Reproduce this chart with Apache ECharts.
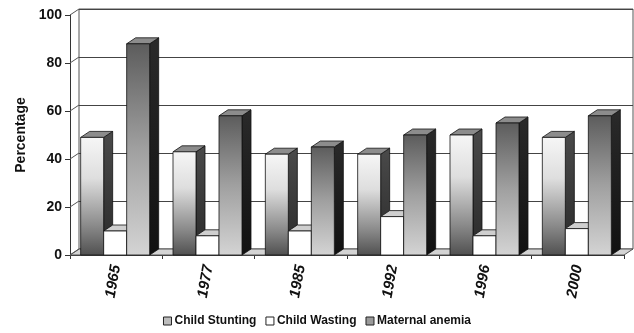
<!DOCTYPE html>
<html>
<head>
<meta charset="utf-8">
<script src="https://cdn.jsdelivr.net/npm/echarts@6/dist/echarts.min.js"></script>
<style>
  html, body { margin: 0; padding: 0; background: #fff; }
  #chart { width: 634px; height: 333px; }
</style>
</head>
<body>
<div id="chart"></div>
<script>
// Survey years and nutrition indicators (%)
const years = ['1965', '1977', '1985', '1992', '1996', '2000'];
const childStunting = [49, 43, 42, 42, 50, 49];
const childWasting = [10, 8, 10, 16, 8, 11];
const maternalAnemia = [88, 58, 45, 50, 55, 58];
const yTicks = [0, 20, 40, 60, 80, 100];

const FONT = '"Liberation Sans", Arial, sans-serif';
const DX = 9, DY = -6;       // depth offset of the 3D box
const BAR_W = 23;            // width of one column front face

const faceStyles = [
  {
    front: new echarts.graphic.LinearGradient(0, 0, 0, 1, [
      { offset: 0, color: '#f6f6f6' }, { offset: 0.35, color: '#dedede' },
      { offset: 0.75, color: '#8a8a8a' }, { offset: 1, color: '#505050' }]),
    side: new echarts.graphic.LinearGradient(0, 0, 0, 1, [
      { offset: 0, color: '#4a4a4a' }, { offset: 1, color: '#2a2a2a' }]),
    top: '#8c8c8c', legend: '#bdbdbd'
  },
  { front: '#ffffff', side: '#9a9a9a', top: '#cfcfcf', legend: '#ffffff' },
  {
    front: new echarts.graphic.LinearGradient(0, 0, 0, 1, [
      { offset: 0, color: '#5c5c5c' }, { offset: 0.5, color: '#a0a0a0' },
      { offset: 1, color: '#d4d4d4' }]),
    side: new echarts.graphic.LinearGradient(0, 0, 0, 1, [
      { offset: 0, color: '#2a2a2a' }, { offset: 1, color: '#111111' }]),
    top: '#8c8c8c', legend: '#9a9a9a'
  }
];

function columnRenderer(seriesIdx) {
  const st = faceStyles[seriesIdx];
  return function (params, api) {
    const cat = api.value(0);
    const val = api.value(1);
    const top = api.coord([cat, val]);
    const base = api.coord([cat, 0]);
    const x0 = top[0] - BAR_W * 1.5 - 1 + seriesIdx * BAR_W;
    const y = top[1], y0 = base[1];
    const line = { stroke: '#111', lineWidth: 0.8 };
    return {
      type: 'group',
      children: [
        { type: 'polygon', shape: { points: [[x0 + BAR_W, y], [x0 + BAR_W + DX, y + DY], [x0 + BAR_W + DX, y0 + DY], [x0 + BAR_W, y0]] },
          style: Object.assign({ fill: st.side }, line) },
        { type: 'polygon', shape: { points: [[x0, y], [x0 + BAR_W, y], [x0 + BAR_W + DX, y + DY], [x0 + DX, y + DY]] },
          style: Object.assign({ fill: st.top }, line) },
        { type: 'rect', shape: { x: x0, y: y, width: BAR_W, height: y0 - y },
          style: Object.assign({ fill: st.front }, line) }
      ]
    };
  };
}

// Floor slab and left-wall tick connectors of the 3D box
function boxRenderer(params, api) {
  const band = api.size([1, 0])[0];
  const v = api.value(1);
  const p = api.coord([0, v]);
  const xl = p[0] - band / 2;
  const children = [
    { type: 'line', shape: { x1: xl, y1: p[1], x2: xl + DX, y2: p[1] + DY },
      style: { stroke: '#555', lineWidth: 1 } }
  ];
  if (v === 0) {
    const pr = api.coord([years.length - 1, 0]);
    const xr = pr[0] + band / 2;
    children.unshift({ type: 'polygon',
      shape: { points: [[xl, p[1]], [xr, p[1]], [xr + DX, p[1] + DY], [xl + DX, p[1] + DY]] },
      style: { fill: '#d4d4d4', stroke: '#555', lineWidth: 1 } });
  }
  return { type: 'group', children: children };
}

const seriesNames = ['Child Stunting', 'Child Wasting', 'Maternal anemia'];
const seriesData = [childStunting, childWasting, maternalAnemia];

const chart = echarts.init(document.getElementById('chart'), null, { renderer: 'canvas' });
chart.setOption({
  animation: false,
  backgroundColor: '#fff',
  grid: [
    { left: 70, right: 10, top: 15, bottom: 78 },
    { left: 79, right: 1, top: 9, bottom: 84, show: true, borderColor: '#555', borderWidth: 1, backgroundColor: 'transparent' }
  ],
  legend: {
    bottom: 1, left: 'center',
    itemWidth: 8, itemHeight: 8, itemGap: 9,
    icon: 'rect',
    textStyle: { fontFamily: FONT, fontWeight: 'bold', fontSize: 12, color: '#111', padding: [0, 0, 0, -2] },
    data: seriesNames.map((n, i) => ({ name: n, itemStyle: { color: faceStyles[i].legend, borderColor: '#222', borderWidth: 1 } }))
  },
  xAxis: [
    {
      type: 'category', gridIndex: 0, data: years,
      axisLine: { show: true, lineStyle: { color: '#333', width: 1 } },
      axisTick: { show: true, length: 4, lineStyle: { color: '#333' } },
      axisLabel: { rotate: 80, margin: 10, fontFamily: FONT, fontWeight: 'bold', fontStyle: 'italic', fontSize: 15, color: '#111', padding: [0, 0, 4, 0] }
    },
    { type: 'category', gridIndex: 1, data: years, show: false }
  ],
  yAxis: [
    {
      type: 'value', gridIndex: 0, min: 0, max: 100, interval: 20,
      name: 'Percentage', nameLocation: 'middle', nameGap: 40,
      nameTextStyle: { fontFamily: FONT, fontWeight: 'bold', fontSize: 14, color: '#111' },
      axisLine: { show: true, lineStyle: { color: '#333', width: 1 } },
      axisTick: { show: true, length: 5, lineStyle: { color: '#333' } },
      axisLabel: { margin: 8, fontFamily: FONT, fontWeight: 'bold', fontSize: 14, color: '#111' },
      splitLine: { show: false }
    },
    {
      type: 'value', gridIndex: 1, min: 0, max: 100, interval: 20,
      axisLine: { show: false }, axisTick: { show: false }, axisLabel: { show: false },
      splitLine: { show: true, lineStyle: { color: '#444', width: 1 } }
    }
  ],
  series: [
    {
      type: 'custom', name: 'box', xAxisIndex: 0, yAxisIndex: 0, z: 1,
      renderItem: boxRenderer, silent: true,
      data: yTicks.map(t => [0, t])
    }
  ].concat(seriesNames.map((name, i) => ({
    type: 'custom', name: name, xAxisIndex: 0, yAxisIndex: 0, z: 2 + i,
    itemStyle: { color: faceStyles[i].legend },
    renderItem: columnRenderer(i),
    encode: { x: 0, y: 1 },
    data: seriesData[i].map((v, k) => [k, v])
  })))
});
</script>
</body>
</html>
